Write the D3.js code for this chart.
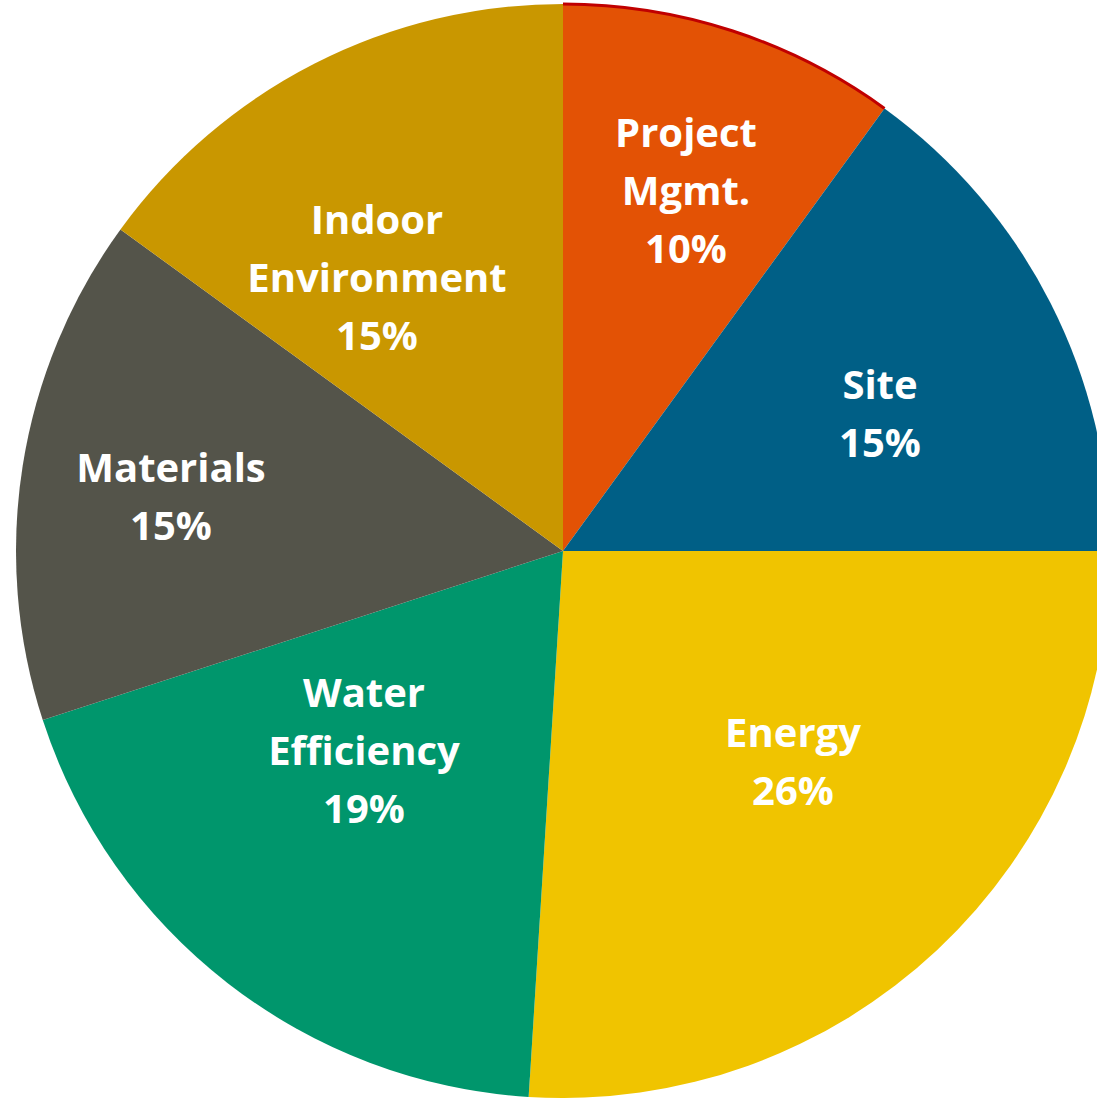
<!doctype html>
<html lang="en">
<head>
<meta charset="utf-8">
<title>Credit categories</title>
<style>
  body { margin: 0; background: #fff; overflow: hidden; }
  svg { display: block; }
  .label { fill: #fff; font-family: "Open Sans", sans-serif; font-weight: 700; font-size: 40px; }
</style>
</head>
<body>
<svg id="chart"></svg>
<script src="https://d3js.org/d3.v7.min.js"></script>
<script>
// Slices, clockwise from 12 o'clock
const categories = ["Project Mgmt.", "Site", "Energy", "Water Efficiency", "Materials", "Indoor Environment"];
const values = [10, 15, 26, 19, 15, 15];
const labelLines = [
  ["Project", "Mgmt.", "10%"],
  ["Site", "15%"],
  ["Energy", "26%"],
  ["Water", "Efficiency", "19%"],
  ["Materials", "15%"],
  ["Indoor", "Environment", "15%"],
];
const colors = ["#E35205", "#005F86", "#F0C400", "#00966C", "#54544A", "#C99700"];

// label block centres, relative to the pie centre (Excel placed these by hand-ish)
const labelAt = [[123, -360], [317, -137], [230, 211], [-199, 200], [-392, -54], [-186, -273]];

const W = 1097, H = 1098;
const cx = 563, cy = 551, R = 547;
const lineH = 58;

const svg = d3.select("#chart").attr("width", W).attr("height", H);
const g = svg.append("g").attr("transform", `translate(${cx},${cy})`);

const pie = d3.pie().value(d => d).sort(null);
const arcs = pie(values);
const arc = d3.arc().innerRadius(0).outerRadius(R);

g.selectAll("path.slice")
  .data(arcs)
  .enter().append("path")
  .attr("class", "slice")
  .attr("d", arc)
  .attr("fill", (d, i) => colors[i]);

// thin dark red rim on the first slice only
const rim = d3.arc().innerRadius(R - 1.5).outerRadius(R + 1.5);
g.append("path")
  .attr("d", rim({ startAngle: arcs[0].startAngle, endAngle: arcs[0].endAngle }))
  .attr("fill", "#C00000");

const labels = g.selectAll("text.label")
  .data(arcs)
  .enter().append("text")
  .attr("class", "label")
  .attr("text-anchor", "middle");

labels.each(function (d, i) {
  const lines = labelLines[i];
  const [lx, ly] = labelAt[i];
  const top = ly - (lines.length - 1) * lineH / 2;
  d3.select(this).selectAll("tspan")
    .data(lines)
    .enter().append("tspan")
    .attr("x", lx)
    .attr("y", (t, k) => top + k * lineH)
    .attr("dy", "0.36em")
    .text(t => t);
});
</script>
</body>
</html>
